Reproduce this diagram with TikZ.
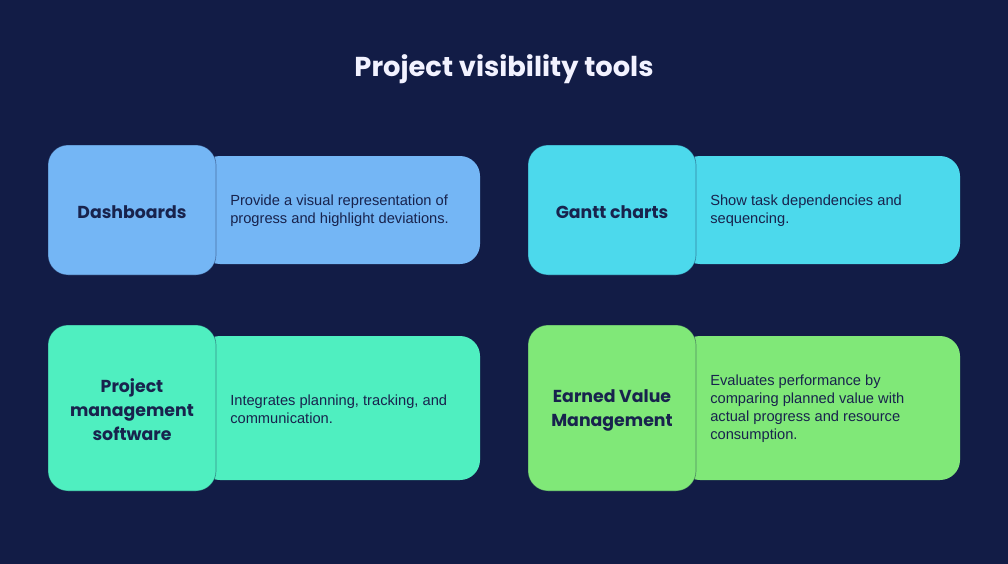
\documentclass[tikz,border=0pt]{standalone}
\usepackage{fontspec}
\setmainfont{Liberation Sans}
\newfontfamily\headfont{Poppins}
\definecolor{bgnavy}{HTML}{121C46}
\definecolor{inknavy}{HTML}{18234D}
\definecolor{dashblue}{HTML}{74B6F5}
\definecolor{ganttcyan}{HTML}{4CD9EC}
\definecolor{pmsteal}{HTML}{4FEFC0}
\definecolor{evmgreen}{HTML}{80E878}
\begin{document}
\begin{tikzpicture}[x=0.75pt,y=-0.75pt,
	labelbox/.style={rounded corners=15pt,inner sep=0pt,minimum width=126pt,
		draw=bgnavy,draw opacity=0.45,line width=0.5pt},
	labeltext/.style={align=center,text=inknavy,inner sep=0pt,
		font=\headfont\bfseries\fontsize{13}{18}\selectfont},
	infobox/.style={rounded corners=15pt,inner sep=0pt,minimum width=210pt},
	infotext/.style={anchor=west,align=left,text=inknavy,inner sep=0pt,
		font=\fontsize{11}{13.5}\selectfont}]
	% background and title
	\fill[bgnavy] (0,0) rectangle (1008,564);
	\node[text=white!95!blue,font=\headfont\bfseries\fontsize{20.5}{24}\selectfont] at (504,69) (title) {Project visibility tools};
	% first row
	\node[infobox,fill=dashblue,minimum height=81pt] at (340,210) (dashinfo) {};
	\node[labelbox,fill=dashblue,minimum height=97.5pt] at (132,210) (dash) {};
	\node[labeltext] at ([yshift=-1.5pt]dash.center) (dashlabel) {Dashboards};
	\node[infotext] at (230,211) (dashtext) {Provide a visual representation of\\progress and highlight deviations.};
	\node[infobox,fill=ganttcyan,minimum height=81pt] at (820,210) (ganttinfo) {};
	\node[labelbox,fill=ganttcyan,minimum height=97.5pt] at (612,210) (gantt) {};
	\node[labeltext] at ([yshift=-1.5pt]gantt.center) (ganttlabel) {Gantt charts};
	\node[infotext] at (710,211) (gantttext) {Show task dependencies and\\sequencing.};
	% second row
	\node[infobox,fill=pmsteal,minimum height=108pt] at (340,408) (pmsinfo) {};
	\node[labelbox,fill=pmsteal,minimum height=124.5pt] at (132,408) (pms) {};
	\node[labeltext] at ([yshift=-1.5pt]pms.center) (pmslabel) {Project\\management\\software};
	\node[infotext] at (230,409) (pmstext) {Integrates planning, tracking, and\\communication.};
	\node[infobox,fill=evmgreen,minimum height=108pt] at (820,408) (evminfo) {};
	\node[labelbox,fill=evmgreen,minimum height=124.5pt] at (612,408) (evm) {};
	\node[labeltext] at ([yshift=-1.5pt]evm.center) (evmlabel) {Earned Value\\Management};
	\node[infotext] at (710,409) (evmtext) {Evaluates performance by\\comparing planned value with\\actual progress and resource\\consumption.};
\end{tikzpicture}
\end{document}
